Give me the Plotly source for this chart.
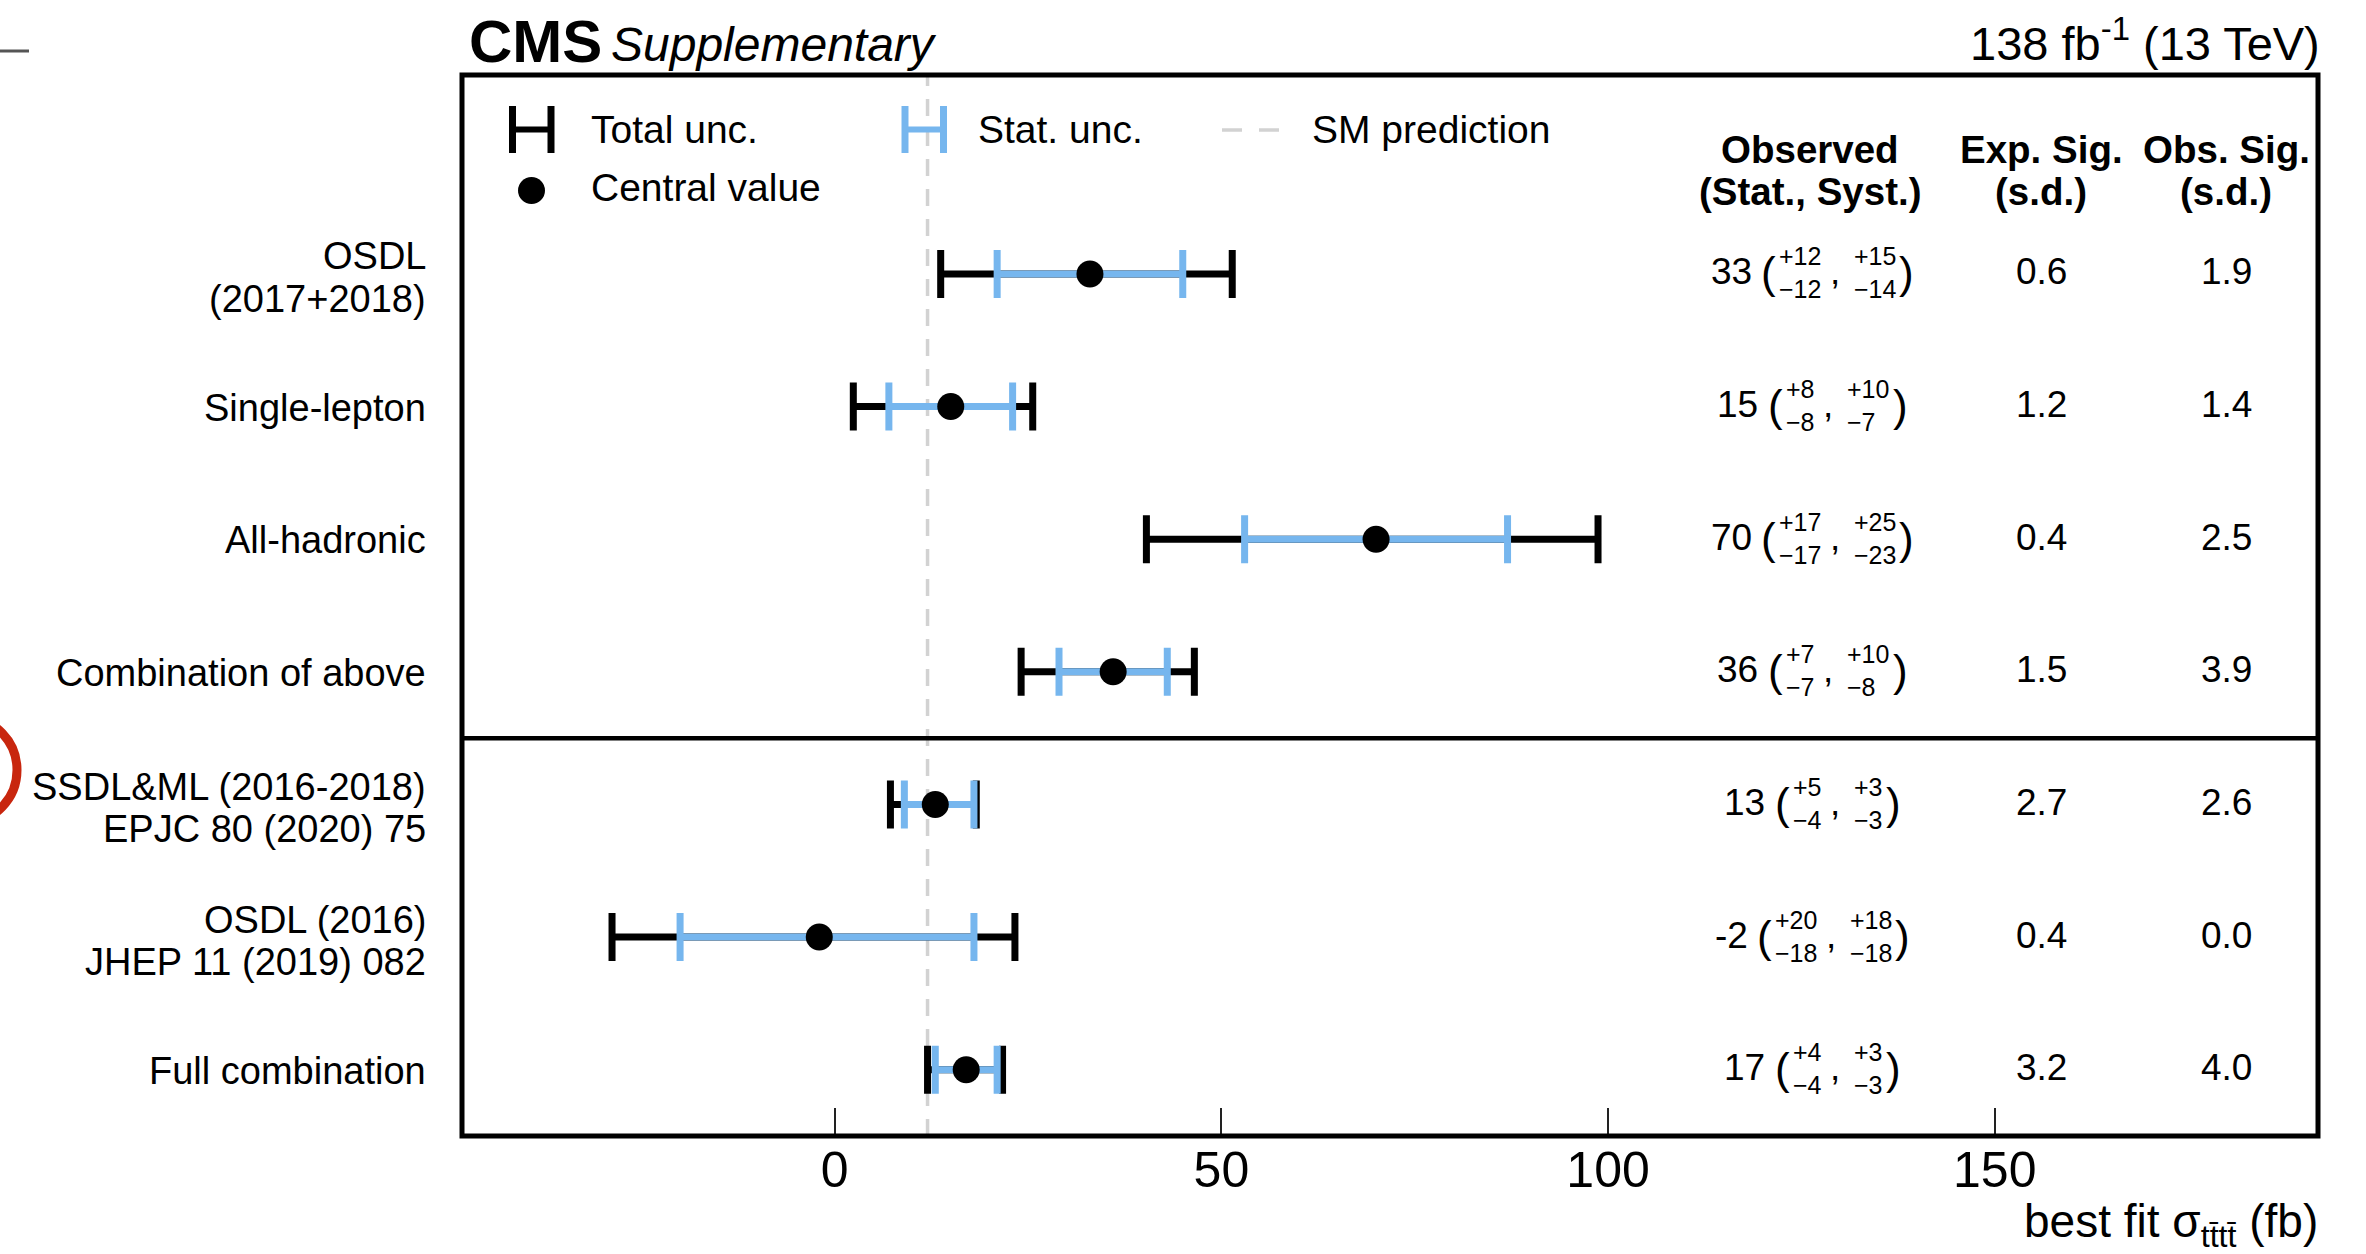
import plotly.graph_objects as go

# ---------------- data ----------------
row_labels = [
    ["OSDL", "(2017+2018)"],
    ["Single-lepton"],
    ["All-hadronic"],
    ["Combination of above"],
    ["SSDL&ML (2016-2018)", "EPJC 80 (2020) 75"],
    ["OSDL (2016)", "JHEP 11 (2019) 082"],
    ["Full combination"],
]
central = [33, 15, 70, 36, 13, -2, 17]
stat_up = [12, 8, 17, 7, 5, 20, 4]
stat_dn = [12, 8, 17, 7, 4, 18, 4]
syst_up = [15, 10, 25, 10, 3, 18, 3]
syst_dn = [14, 7, 23, 8, 3, 18, 3]
total_up = [18.4, 10.6, 28.7, 10.5, 5.3, 25.3, 4.7]
total_dn = [19.3, 12.6, 29.7, 11.9, 5.8, 26.8, 5.0]
exp_sig = [0.6, 1.2, 0.4, 1.5, 2.7, 0.4, 3.2]
obs_sig = [1.9, 1.4, 2.5, 3.9, 2.6, 0.0, 4.0]
sm_prediction = 12.0
x_ticks = [0, 50, 100, 150]
n_first_group = 4  # rows above the separator

# ---------------- geometry ----------------
W, H = 2366, 1254
ML, MR, MT, MB = 462, 48, 75, 118
PW, PH = W - ML - MR, H - MT - MB
FONT = "Liberation Sans"
BLACK = "#000000"
BLUE = "#76b6ee"
GREY = "#d2d2d2"


def px(x):
    return (x - ML) / PW


def py(y):
    return (H - MB - y) / PH


n = len(central)
ypos = [n - 1 - i for i in range(n)]

fig = go.Figure()

# total uncertainty (black)
fig.add_trace(go.Scatter(
    x=central, y=ypos, mode="markers",
    marker=dict(size=1, color="rgba(0,0,0,0)"),
    error_x=dict(type="data", symmetric=False, array=total_up, arrayminus=total_dn,
                 color=BLACK, thickness=7, width=24),
    showlegend=False, hoverinfo="skip",
))
# statistical uncertainty (blue) with central value markers
fig.add_trace(go.Scatter(
    x=central, y=ypos, mode="markers",
    marker=dict(size=27, color=BLACK, symbol="circle"),
    error_x=dict(type="data", symmetric=False, array=stat_up, arrayminus=stat_dn,
                 color=BLUE, thickness=7, width=24),
    showlegend=False, hoverinfo="skip",
))

shapes = []
# SM prediction
shapes.append(dict(type="line", xref="x", yref="paper", x0=sm_prediction, x1=sm_prediction,
                   y0=0, y1=1, line=dict(color=GREY, width=3.5, dash="17px,13px"), layer="below"))
# separator between the two groups
sep_y = (ypos[n_first_group - 1] + ypos[n_first_group]) / 2
shapes.append(dict(type="line", xref="paper", yref="y", x0=0, x1=1, y0=sep_y, y1=sep_y,
                   line=dict(color=BLACK, width=4.5)))
# frame
shapes.append(dict(type="rect", xref="paper", yref="paper", x0=0, x1=1, y0=0, y1=1,
                   line=dict(color=BLACK, width=5)))


# legend symbols
def h_symbol(xl, xr, yc, half, color):
    return [
        dict(type="line", xref="paper", yref="paper", x0=px(xl), x1=px(xl),
             y0=py(yc - half), y1=py(yc + half), line=dict(color=color, width=7)),
        dict(type="line", xref="paper", yref="paper", x0=px(xr), x1=px(xr),
             y0=py(yc - half), y1=py(yc + half), line=dict(color=color, width=7)),
        dict(type="line", xref="paper", yref="paper", x0=px(xl), x1=px(xr),
             y0=py(yc), y1=py(yc), line=dict(color=color, width=6)),
    ]


shapes += h_symbol(512.5, 551, 129.5, 23.5, BLACK)
shapes += h_symbol(905, 943.5, 129.5, 23.5, BLUE)
shapes.append(dict(type="circle", xref="paper", yref="paper", x0=px(518), x1=px(545),
                   y0=py(177), y1=py(204), fillcolor=BLACK, line=dict(color=BLACK, width=0)))
for a, b in [(1222, 1242), (1259, 1279)]:
    shapes.append(dict(type="line", xref="paper", yref="paper", x0=px(a), x1=px(b),
                       y0=py(130), y1=py(130), line=dict(color=GREY, width=3.5)))

# marks at the left border
shapes.append(dict(type="line", xref="paper", yref="paper", x0=px(0), x1=px(29),
                   y0=py(51), y1=py(51), line=dict(color="#555555", width=3)))
shapes.append(dict(type="circle", xref="paper", yref="paper", x0=px(-84), x1=px(17),
                   y0=py(822), y1=py(718), line=dict(color="#c8260e", width=9)))

ann = []


def text(x, y, s, size, anchor="left", yref="paper", yshift=0, color=BLACK, align="left"):
    ann.append(dict(x=px(x), y=(py(y) if yref == "paper" else y), xref="paper", yref=yref,
                    text=s, showarrow=False, xanchor=anchor, yanchor="middle", align=align,
                    yshift=yshift, font=dict(family=FONT, size=size, color=color)))


# header
text(467, 42, "<b>CMS</b>", 60)
text(609, 45, "<i>Supplementary</i>", 48)
text(2322, 40, "138 fb<sup>-1</sup> (13 TeV)", 47, anchor="right")

# legend texts
text(589, 130, "Total unc.", 39)
text(589, 187, "Central value", 39)
text(976, 130, "Stat. unc.", 39)
text(1310, 130, "SM prediction", 39)

# table header
for xc, l1, l2 in [(1810, "Observed", "(Stat., Syst.)"),
                   (2041, "Exp. Sig.", "(s.d.)"),
                   (2226, "Obs. Sig.", "(s.d.)")]:
    text(xc, 150, f"<b>{l1}</b>", 38.5, anchor="center")
    text(xc, 192, f"<b>{l2}</b>", 38.5, anchor="center")

# row labels
for i, lines in enumerate(row_labels):
    if len(lines) == 1:
        text(428, ypos[i], lines[0], 38, anchor="right", yref="y", yshift=-1)
    else:
        text(428, ypos[i], lines[0], 38, anchor="right", yref="y", yshift=17.5)
        text(428, ypos[i], lines[1], 38, anchor="right", yref="y", yshift=-25)

# observed values with stacked stat / syst uncertainties
ADV = {"+": 0.584, "\u2212": 0.584, "-": 0.333, ".": 0.278}
for d in "0123456789":
    ADV[d] = 0.556


def adv(s):
    return sum(ADV[c] for c in s)


FS_NUM, FS_SCR, FS_PAR = 37, 25, 44
OBS_X = 1808
for i in range(n):
    main = f"{central[i]}"
    u1, d1 = f"+{stat_up[i]}", f"\u2212{stat_dn[i]}"
    u2, d2 = f"+{syst_up[i]}", f"\u2212{syst_dn[i]}"
    w0 = adv(main) * FS_NUM
    w1 = max(adv(u1), adv(d1)) * FS_SCR
    w2 = max(adv(u2), adv(d2)) * FS_SCR
    tot = w0 + 27 + w1 + 33 + w2 + 13
    x0 = OBS_X - tot / 2
    y = ypos[i]
    text(x0, y, main, FS_NUM, yref="y", yshift=2)
    text(x0 + w0 + 9, y, "(", FS_PAR, yref="y", yshift=1)
    xs1 = x0 + w0 + 27
    text(xs1, y, f"{u1}<br>{d1}", FS_SCR, yref="y", yshift=1)
    text(xs1 + w1 + 9, y, ",", FS_NUM, yref="y", yshift=2)
    xs2 = xs1 + w1 + 33
    text(xs2, y, f"{u2}<br>{d2}", FS_SCR, yref="y", yshift=1)
    text(xs2 + w2 + 3, y, ")", FS_PAR, yref="y", yshift=1)
    text(2041, y, f"{exp_sig[i]:.1f}", FS_NUM, anchor="center", yref="y", yshift=2)
    text(2226, y, f"{obs_sig[i]:.1f}", FS_NUM, anchor="center", yref="y", yshift=2)

# x-axis title
text(2320, 1224, "best fit \u03c3<sub>tt\u0304tt\u0304</sub> (fb)", 46, anchor="right")

fig.update_layout(
    width=W, height=H,
    margin=dict(l=ML, r=MR, t=MT, b=MB, pad=0),
    paper_bgcolor="white", plot_bgcolor="white",
    template="none",
    font=dict(family=FONT, color=BLACK),
    showlegend=False,
    shapes=shapes,
    annotations=ann,
    xaxis=dict(range=[-48.2, 191.8], tickvals=x_ticks, ticktext=[str(t) for t in x_ticks],
               ticks="inside", ticklen=28, tickwidth=2, tickcolor="#222222",
               showgrid=False, zeroline=False, showline=False,
               tickfont=dict(family=FONT, size=50, color=BLACK)),
    yaxis=dict(range=[-0.5, 7.5], showticklabels=False, showgrid=False, zeroline=False,
               showline=False, ticks=""),
)

fig.write_html("out.html")
